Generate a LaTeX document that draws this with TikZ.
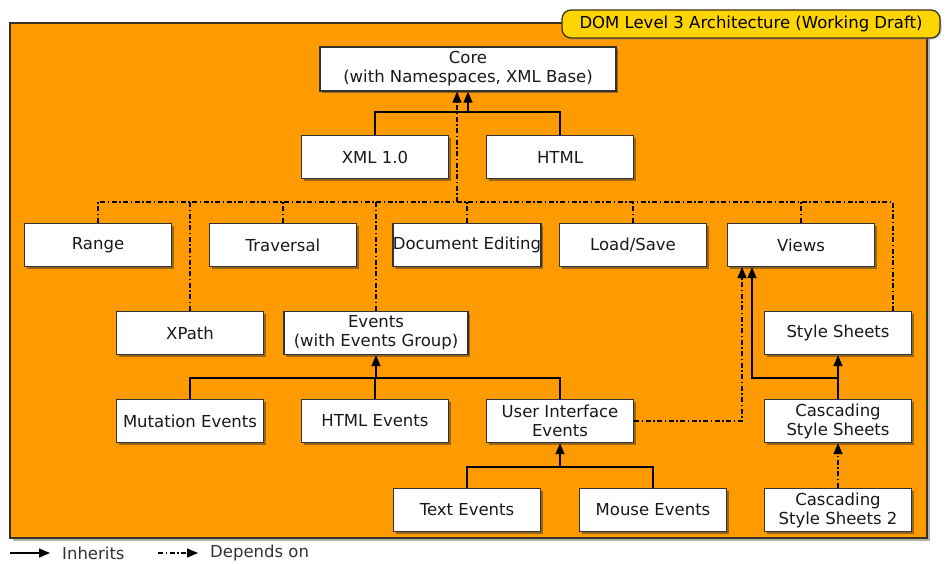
\documentclass[tikz,border=0pt]{standalone}
\usepackage{fontspec}
\setmainfont{DejaVu Sans}
\usetikzlibrary{arrows.meta,shadows}
\definecolor{domorange}{HTML}{FF9A00}
\definecolor{domyellow}{HTML}{FFD500}
\definecolor{domline}{HTML}{3A3020}
\begin{document}
\begin{tikzpicture}[x=1pt,y=-1pt,
    font=\fontsize{16.5}{19}\selectfont,
    module/.style={draw=black!80,line width=1.3pt,fill=white,align=center,text=black!90,
      minimum width=147pt,minimum height=43pt,inner sep=0pt,
      drop shadow={shadow xshift=2pt,shadow yshift=-2pt,opacity=.5,fill=black!80}},
    inh/.style={line width=1.3pt,draw=black},
    dep/.style={line width=1.3pt,draw=black,dash pattern=on 5pt off 2.5pt on 1.5pt off 2.5pt},
    tip/.style={-{Triangle[length=11pt,width=9pt]}}]
\useasboundingbox (0,0) rectangle (946,563);
\fill[black!30] (13,26) rectangle (930,541);
\draw[domline,line width=1.3pt,fill=domorange] (10,23) rectangle (927,538);
\node[draw=domline,line width=1.3pt,fill=domyellow,rounded corners=9pt,
  minimum width=378pt,minimum height=28pt,inner sep=0pt,text=black,
  drop shadow={shadow xshift=1.5pt,shadow yshift=-1.5pt,opacity=.4}] (title) at (751,24)
  {DOM Level 3 Architecture (Working Draft)};
\node[module,minimum width=296pt,minimum height=44pt] (core) at (468,69) {Core\\(with Namespaces, XML Base)};
\node[module] (xml) at (375,157) {XML 1.0};
\node[module] (html) at (560,157) {HTML};
\node[module] (range) at (98,245) {Range};
\node[module] (trav) at (283,245) {Traversal};
\node[module] (edit) at (467,245) {Document Editing};
\node[module] (load) at (633,245) {Load/Save};
\node[module] (views) at (801,245) {Views};
\node[module] (xpath) at (190,333) {XPath};
\node[module,minimum width=184pt] (events) at (376,333) {Events\\(with Events Group)};
\node[module] (style) at (838,333) {Style Sheets};
\node[module] (mut) at (190,421) {Mutation Events};
\node[module] (htmlev) at (375,421) {HTML Events};
\node[module] (ui) at (560,421) {User Interface\\Events};
\node[module] (css) at (838,421) {Cascading\\Style Sheets};
\node[module] (text) at (467,510) {Text Events};
\node[module] (mouse) at (653,510) {Mouse Events};
\node[module] (css2) at (838,510) {Cascading\\Style Sheets 2};
\coordinate (cj) at (468,112);
\coordinate (bus) at (457,202);
\coordinate (busE) at (893,202);
\coordinate (ej) at (376,378);
\coordinate (uj) at (560,467);
\coordinate (vj) at (742,421);
\coordinate (sj) at (752,378);
\draw[inh] (xml.north) |- (cj);
\draw[inh] (html.north) |- (cj);
\draw[inh,tip] (cj) -- (core.south -| cj);
\draw[dep] (range.north) |- (busE) -- (busE |- style.north);
\draw[dep] (xpath.north) -- (xpath.north |- busE);
\draw[dep] (trav.north) -- (trav.north |- busE);
\draw[dep] (events.north) -- (events.north |- busE);
\draw[dep] (edit.north) -- (edit.north |- busE);
\draw[dep] (load.north) -- (load.north |- busE);
\draw[dep] (views.north) -- (views.north |- busE);
\draw[dep,tip] (bus) -- (core.south -| bus);
\draw[inh] (mut.north) |- (ej);
\draw[inh] (ui.north) |- (ej);
\draw[inh] (htmlev.north) -- (htmlev.north |- ej);
\draw[inh,tip] (ej) -- (events.south);
\draw[inh] (text.north) |- (uj);
\draw[inh] (mouse.north) |- (uj);
\draw[inh,tip] (uj) -- (ui.south);
\draw[dep,tip] (ui.east) -- (vj) -- (vj |- views.south);
\draw[inh,tip] (css.north) -- (style.south);
\draw[inh,tip] (css.north |- sj) -- (sj) -- (sj |- views.south);
\draw[dep,tip] (css2.north) -- (css.south);
\coordinate (la) at (10,553);
\coordinate (lb) at (50,553);
\coordinate (lc) at (158,553);
\coordinate (ld) at (198,553);
\node[anchor=west,text=black!80,inner sep=0pt] (linh) at (62,553) {Inherits};
\node[anchor=west,text=black!80,inner sep=0pt] (ldep) at (210,553) {Depends on};
\draw[inh,tip] (la) -- (lb);
\draw[dep,tip] (lc) -- (ld);
\end{tikzpicture}
\end{document}
